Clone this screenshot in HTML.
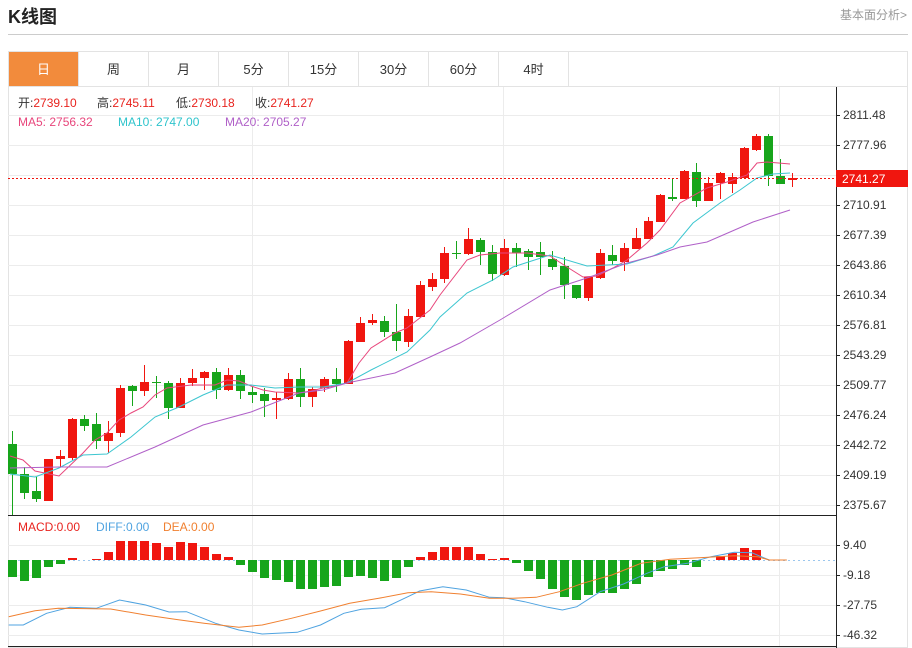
<!DOCTYPE html>
<html><head><meta charset="utf-8"><style>
body{margin:0;width:912px;height:648px;background:#fff;font-family:"Liberation Sans","Noto Sans CJK SC",sans-serif;overflow:hidden;position:relative}
.t{position:absolute;white-space:nowrap}
</style></head><body>
<div class="t" style="left:8px;top:3px;font-size:18px;font-weight:bold;color:#222">K线图</div>
<div class="t" style="left:840px;top:6px;font-size:12px;color:#999">基本面分析&gt;</div>
<div style="position:absolute;left:8px;top:34px;width:900px;height:1px;background:#ccc"></div>
<svg id="s" width="912" height="648" style="position:absolute;left:0;top:0" xmlns="http://www.w3.org/2000/svg" font-family="Liberation Sans, Noto Sans CJK SC, sans-serif"></svg>
<script>
var S='';
function r(x,y,w,h,f,st){S+='<rect x="'+x+'" y="'+y+'" width="'+w+'" height="'+h+'" fill="'+f+'"'+(st?' stroke="'+st+'"':'')+'/>';}
function l(x1,y1,x2,y2,c,extra){S+='<line x1="'+x1+'" y1="'+y1+'" x2="'+x2+'" y2="'+y2+'" stroke="'+c+'" '+(extra||'')+'/>';}
function t(x,y,s,c,sz,anchor){S+='<text x="'+x+'" y="'+y+'" fill="'+c+'" font-size="'+(sz||12)+'"'+(anchor?' text-anchor="'+anchor+'"':'')+'>'+s+'</text>';}
function pl(pts,c){S+='<polyline fill="none" stroke="'+c+'" stroke-width="1" points="'+pts.map(function(p){return p[0]+','+p[1]}).join(' ')+'"/>';}
r(8.5,51.5,899,596,'#fff','#e3e3e3');
var tabs=['日','周','月','5分','15分','30分','60分','4时'];
for(var i=0;i<8;i++){var x=8.5+i*70;r(x,51.5,70,35,i==0?'#f28b3c':'#fff','#e3e3e3');t(x+35,74,tabs[i],i==0?'#fff':'#333',13,'middle');}
l(8,86.5,908,86.5,'#e3e3e3');
var py=[115,145,175,205,235,265,295,325,355,385,415,445,475,505];
py.forEach(function(y){l(8,y+.5,836,y+.5,'#ececec');});
[545,575,605,635].forEach(function(y){l(8,y+.5,836,y+.5,'#ececec');});
[252,503,779].forEach(function(x){l(x+.5,87,x+.5,646,'#ececec');});
l(8,515.5,836,515.5,'#222');l(8,646.5,836,646.5,'#222');
l(836.5,87,836.5,648,'#222');
var pl_=['2811.48','2777.96','','2710.91','2677.39','2643.86','2610.34','2576.81','2543.29','2509.77','2476.24','2442.72','2409.19','2375.67'];
py.forEach(function(y,i){if(pl_[i]){l(836,y+.5,840,y+.5,'#222');t(843,y+4,pl_[i],'#333',12);}});
[['9.40',545],['-9.18',575],['-27.75',605],['-46.32',635]].forEach(function(a){l(836,a[1]+.5,840,a[1]+.5,'#222');t(843,a[1]+4,a[0],'#333',12);});
var C=[[444,474,431,515,0],[474,493,467,499,0],[491,499,477,502,0],[459,501,459,501,1],[456,459,450,467,1],[419,458,418,460,1],[419,426,415,431,0],[424,441,413,449,0],[433,441,421,453,1],[388,433,385,437,1],[386,391,385,406,0],[382,391,365,396,1],[382,383,376,398,0],[383,408,381,419,0],[383,408,378,408,1],[378,383,369,386,1],[372,378,371,390,1],[372,390,368,399,0],[375,390,368,391,1],[375,391,370,399,0],[392,395,387,403,0],[394,401,388,417,0],[398,400,392,419,1],[379,399,373,400,1],[379,397,368,407,0],[389,397,387,407,1],[379,388,377,392,1],[379,384,368,392,0],[341,384,340,384,1],[323,342,317,342,1],[320,323,314,325,1],[321,332,316,337,0],[332,341,304,351,0],[316,342,309,347,1],[285,317,281,317,1],[279,287,273,291,1],[253,279,247,283,1],[253,254,241,259,0],[239,254,228,255,1],[240,252,238,265,0],[252,274,245,281,0],[248,275,239,276,1],[248,253,243,267,0],[251,257,249,270,0],[252,257,242,275,0],[259,267,251,270,0],[266,285,257,299,0],[285,298,285,299,0],[277,298,277,301,1],[253,278,249,279,1],[255,261,245,265,0],[248,262,243,271,1],[238,249,228,249,1],[221,239,217,239,1],[195,222,194,222,1],[197,199,178,201,0],[171,199,170,199,1],[172,201,163,207,0],[183,201,177,201,1],[173,183,172,199,1],[177,184,173,193,1],[148,178,147,178,1],[136,150,134,151,1],[136,176,134,186,0],[176,184,159,184,0],[178,180,173,187,1]];
C.forEach(function(c,i){var x=12+12*i,col=c[4]?'#f0160f':'#17a51b';l(x+.5,c[2],x+.5,c[3],col);r(x-4,c[0],9,Math.max(1,c[1]-c[0]),col);});
pl([[10,456],[23,460],[35,471],[59,476],[83,453],[95,440],[107,433],[119,420],[131,413],[143,407],[155,395],[167,388],[191,385],[215,385],[227,380],[239,381],[251,386],[263,390],[275,392],[299,393],[311,391],[323,388],[335,386],[347,383],[359,363],[371,348],[395,333],[407,328],[430,310],[440,295],[467,260],[480,255],[500,253],[527,253],[550,256],[567,267],[583,277],[597,276],[613,268],[627,260],[647,243],[660,230],[680,203],[707,188],[727,182],[747,175],[757,163],[767,162],[790,164]],'#e8467c');
pl([[10,474],[35,477],[59,468],[83,455],[107,454],[131,437],[155,417],[179,407],[203,395],[227,385],[251,385],[275,388],[299,387],[323,387],[347,383],[371,370],[407,352],[430,330],[440,317],[467,293],[493,280],[513,267],[550,255],[587,266],[607,265],[627,264],[653,256],[673,247],[693,223],[720,203],[740,190],[757,178],[773,174],[790,173]],'#3cc6d0');
pl([[10,468],[59,467],[107,467],[155,447],[203,425],[251,412],[299,393],[323,390],[347,383],[395,373],[430,357],[460,343],[500,320],[550,290],[590,277],[627,263],[657,255],[680,247],[707,242],[730,232],[753,222],[790,210]],'#b060c8');
l(8,178.5,836,178.5,'#f0160f','stroke-dasharray="2,2"');
r(836,170,72,17,'#f0160f');t(842,183,'2741.27','#fff',12);
var M=[577,581,578,567,564,558,560,559,552,541,541,541,543,547,542,543,547,554,557,565,572,578,580,582,589,589,587,586,577,576,578,581,578,567,557,552,547,547,547,554,559,558,563,571,579,589,597,600,595,593,593,589,584,577,571,569,565,567,560,556,553,548,550,560,560,560];
l(8,560.5,836,560.5,'#9cc7ee','stroke-dasharray="2,3"');
M.forEach(function(y,i){var x=12+12*i;if(Math.abs(y-560)<1)return;var up=y<560;r(x-4,up?y:560,9,Math.abs(y-560),up?'#f0160f':'#17a51b');});
function cv(a){return a.map(function(p){return [(p[0]/1.716).toFixed(1),(p[1]/3+510).toFixed(1)]});}
pl(cv([[15,345],[40,345],[80,310],[120,292],[165,295],[205,270],[250,285],[290,306],[320,305],[370,340],[410,360],[450,372],[510,367],[550,345],[590,310],[620,298],[660,293],[700,260],[720,243],[760,230],[800,240],[840,262],[865,263],[900,275],[940,292],[965,300],[990,290],[1030,245],[1070,222],[1110,190],[1140,170],[1180,160],[1220,140],[1260,127],[1290,128],[1320,150],[1350,150]]),'#4fa3e0');
pl(cv([[15,320],[60,302],[100,295],[190,297],[250,315],[300,328],[350,340],[410,352],[450,345],[500,325],[550,303],[600,280],[650,265],[700,248],[740,245],[790,252],[840,265],[880,265],[920,262],[960,245],[1000,220],[1050,195],[1100,160],[1150,148],[1200,143],[1260,137],[1300,140],[1320,150],[1350,150]]),'#f08030');
S+='<text x="18" y="107" font-size="12" fill="#333">开:<tspan fill="#e8231e">2739.10</tspan></text>';
S+='<text x="97" y="107" font-size="12" fill="#333">高:<tspan fill="#e8231e">2745.11</tspan></text>';
S+='<text x="176" y="107" font-size="12" fill="#333">低:<tspan fill="#e8231e">2730.18</tspan></text>';
S+='<text x="255" y="107" font-size="12" fill="#333">收:<tspan fill="#e8231e">2741.27</tspan></text>';
t(18,126,'MA5: 2756.32','#e8467c');t(118,126,'MA10: 2747.00','#2fc4cc');t(225,126,'MA20: 2705.27','#b060c8');
t(18,531,'MACD:0.00','#e8231e');t(96,531,'DIFF:0.00','#4fa3e0');t(163,531,'DEA:0.00','#f08030');
document.getElementById('s').innerHTML=S;
</script>
</body></html>
